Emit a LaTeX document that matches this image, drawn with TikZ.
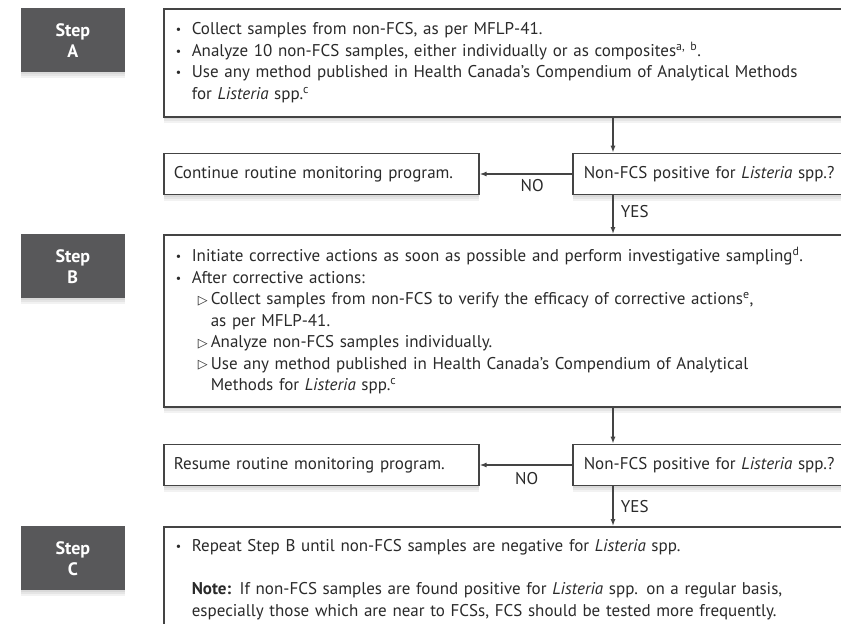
\documentclass[tikz,border=0pt]{standalone}
\usepackage{fontspec}
\setmainfont{PT Sans}
\newfontfamily\symfont{DejaVu Sans}
\usepackage{graphicx}
\usetikzlibrary{positioning,arrows.meta}

\definecolor{stepgray}{HTML}{58585A}
\definecolor{linegray}{HTML}{444444}
\definecolor{textgray}{HTML}{2A2A2A}

\newcommand{\bul}{\makebox[16pt][l]{\raisebox{1pt}{\scalebox{0.7}{\textbullet}}}}
\newcommand{\tri}{\hspace*{22pt}\makebox[13pt][l]{\raisebox{0.5pt}{\scalebox{0.75}{\symfont ▷}}}}
\newcommand{\lis}{\textit{Listeria}}

\begin{document}
\begin{tikzpicture}[x=1pt,y=-1pt,
        every node/.style={font=\fontsize{17}{21.5}\selectfont,text=textgray},
        softshadow/.style={preaction={fill=black,opacity=0.05,transform canvas={yshift=-2pt}},
            preaction={fill=black,opacity=0.05,transform canvas={yshift=-4pt}},
            preaction={fill=black,opacity=0.05,transform canvas={yshift=-6pt}}},
        stepbox/.style={fill=stepgray,text=white,font=\fontsize{18}{21}\selectfont\bfseries,align=center,
            minimum width=104pt,minimum height=64pt,inner sep=0pt,softshadow},
        mainbox/.style={draw=linegray,line width=1.6pt,fill=white,anchor=north west,align=left,
            text width=690pt,inner xsep=12pt,inner ysep=0pt,softshadow},
        sidebox/.style={draw=linegray,line width=1.6pt,fill=white,anchor=west,align=left,
            text width=295pt,inner xsep=10pt,minimum height=41pt,softshadow},
        askbox/.style={draw=linegray,line width=1.6pt,fill=white,anchor=west,align=left,
            text width=290pt,inner xsep=11pt,minimum height=41pt,softshadow},
        arr/.style={color=linegray,line width=1.3pt,-{Latex[length=7pt,width=5pt]}}]
        \useasboundingbox (0,0) rectangle (841,624);
        \clip (0,0) rectangle (841,624);
        \fill[white] (0,0) rectangle (841,624);
        \coordinate (col) at (613,0);
        \node[mainbox,minimum height=108pt] (boxA) at (163,8)
            {\bul Collect samples from non-FCS, as per MFLP-41.\\
             \bul Analyze 10 non-FCS samples, either individually or as composites\textsuperscript{a, b}.\\
             \bul Use any method published in Health Canada's Compendium of Analytical Methods\\
             \hspace*{16pt}for \lis{} spp.\textsuperscript{c}};
        \node[stepbox,left=38pt of boxA.north west,anchor=north east] (stepA) {Step\\A};
        \node[askbox] (ask1) at (572,174) {Non-FCS positive for \lis{} spp.?};
        \node[sidebox] (contA) at (163,174) {Continue routine monitoring program.};
        \node[mainbox,minimum height=172pt] (boxB) at (163,234)
            {\bul Initiate corrective actions as soon as possible and perform investigative sampling\textsuperscript{d}.\\
             \bul After corrective actions:\\
             \tri Collect samples from non-FCS to verify the efficacy of corrective actions\textsuperscript{e},\\
             \hspace*{35pt}as per MFLP-41.\\
             \tri Analyze non-FCS samples individually.\\
             \tri Use any method published in Health Canada's Compendium of Analytical\\
             \hspace*{35pt}Methods for \lis{} spp.\textsuperscript{c}};
        \node[stepbox,left=38pt of boxB.north west,anchor=north east] (stepB) {Step\\B};
        \node[askbox] (ask2) at (572,465) {Non-FCS positive for \lis{} spp.?};
        \node[sidebox] (contB) at (163,465) {Resume routine monitoring program.};
        \node[mainbox,minimum height=105pt] (boxC) at (163,526)
            {\bul Repeat Step B until non-FCS samples are negative for \lis{} spp.\\[22pt]
             \hspace*{16pt}\textbf{Note:} If non-FCS samples are found positive for \lis{} spp. on a regular basis,\\
             \hspace*{16pt}especially those which are near to FCSs, FCS should be tested more frequently.};
        \node[stepbox,left=38pt of boxC.north west,anchor=north east] (stepC) {Step\\C};
        \path[arr]
        (boxA.south -| col) edge (ask1.north -| col)
        (ask1.west) edge node[below=1pt,pos=0.43] {NO} (contA.east)
        (ask1.south -| col) edge node[right=4pt,pos=0.42] {YES} (boxB.north -| col)
        (boxB.south -| col) edge (ask2.north -| col)
        (ask2.west) edge node[below=3pt,pos=0.49] {NO} (contB.east)
        (ask2.south -| col) edge node[right=4pt,pos=0.5] {YES} (boxC.north -| col);
    \end{tikzpicture}
\end{document}
